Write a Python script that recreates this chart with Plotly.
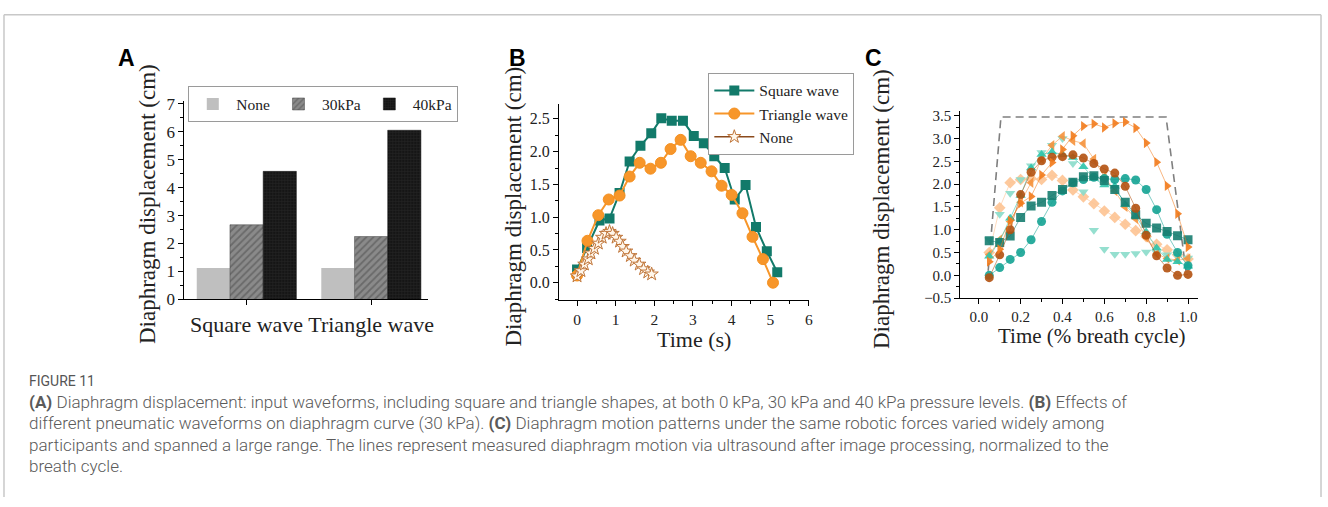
import plotly.graph_objects as go

W, H = 1328, 507
SERIF = "Liberation Serif, Times New Roman, serif"

# ---------------- Panel A data ----------------
a_categories = ["Square wave", "Triangle wave"]
a_none = [1.12, 1.12]
a_30 = [2.67, 2.25]
a_40 = [4.58, 6.05]

# ---------------- Panel B data ----------------
b_sq_x = [0.0, 0.26, 0.58, 0.84, 1.10, 1.36, 1.64, 1.92, 2.18, 2.45, 2.74, 3.02, 3.28, 3.55, 3.82, 4.08, 4.36, 4.63, 4.91, 5.18]
b_sq_y = [0.20, 0.53, 0.95, 0.98, 1.37, 1.85, 2.09, 2.28, 2.51, 2.47, 2.47, 2.24, 2.13, 1.93, 1.75, 1.27, 1.49, 0.85, 0.48, 0.16]
b_tri_x = [0.0, 0.27, 0.55, 0.82, 1.10, 1.36, 1.62, 1.90, 2.17, 2.42, 2.68, 2.94, 3.20, 3.48, 3.74, 4.00, 4.28, 4.54, 4.81, 5.07]
b_tri_y = [0.11, 0.64, 1.03, 1.27, 1.33, 1.62, 1.83, 1.74, 1.83, 2.04, 2.18, 1.93, 1.83, 1.70, 1.48, 1.34, 1.06, 0.70, 0.36, 0.00]
b_none_x = [0.0, 0.10, 0.19, 0.29, 0.36, 0.45, 0.55, 0.65, 0.75, 0.84, 0.92, 1.01, 1.10, 1.18, 1.27, 1.38, 1.48, 1.61, 1.72, 1.83, 1.93]
b_none_y = [0.10, 0.18, 0.28, 0.36, 0.45, 0.52, 0.60, 0.69, 0.75, 0.78, 0.75, 0.69, 0.63, 0.55, 0.48, 0.41, 0.34, 0.28, 0.21, 0.16, 0.13]

# ---------------- Panel C data ----------------
c_x = [0.05, 0.10, 0.15, 0.20, 0.25, 0.30, 0.35, 0.40, 0.45, 0.50,
       0.55, 0.60, 0.65, 0.70, 0.75, 0.80, 0.85, 0.90, 0.95, 1.00]
c_sq_dark = [0.76, 0.72, 0.86, 1.27, 1.52, 1.60, 1.75, 1.88, 2.04, 2.16, 2.18, 2.08, 1.88, 1.60, 1.33, 1.14, 1.04, 0.96, 0.87, 0.78]
c_circ_teal = [0.00, 0.17, 0.35, 0.50, 0.78, 1.18, 1.60, 1.85, 2.03, 2.10, 2.15, 2.12, 2.10, 2.12, 2.09, 1.88, 1.44, 0.90, 0.50, 0.21]
c_tri_up = [0.42, 0.75, 1.25, 1.75, 2.35, 2.65, 2.70, 2.65, 2.58, 2.38, 2.12, 1.98, 1.95, 1.55, 1.30, 0.95, 0.60, 0.35, 0.30, 0.20]
c_tri_down = [0.78, 1.34, 1.80, 2.10, 2.40, 2.69, 2.85, 3.00, 2.45, 1.83, 0.99, 0.57, 0.46, 0.46, 0.48, 0.51, 0.50, 0.45, 0.42, 0.38]
c_tri_right = [0.30, 0.57, 1.20, 1.58, 1.73, 2.20, 2.47, 2.76, 3.06, 3.27, 3.32, 3.24, 3.33, 3.36, 3.23, 2.90, 2.48, 1.96, 1.35, 0.62]
c_tri_left = [0.45, 0.78, 1.18, 1.60, 2.03, 2.55, 2.85, 3.05, 2.95, 2.89, 2.55, 2.16, 1.85, 1.50, 1.24, 0.83, 0.47, 0.37, 0.33, 0.37]
c_diamond = [0.50, 1.48, 2.03, 2.10, 2.12, 2.10, 2.19, 2.08, 1.87, 1.72, 1.57, 1.41, 1.27, 1.12, 0.98, 0.85, 0.68, 0.56, 0.45, 0.36]
c_circ_brown = [-0.05, 0.45, 1.00, 1.77, 2.26, 2.51, 2.59, 2.60, 2.64, 2.57, 2.45, 2.33, 2.24, 1.95, 1.47, 0.88, 0.43, 0.16, 0.00, 0.02]
c_env_x = [0.045, 0.106, 0.895, 0.99]
c_env_y = [0.10, 3.47, 3.47, 0.10]

fig = go.Figure()

# ---------- Panel A bars ----------
fig.add_trace(go.Bar(x=a_categories, y=a_none, name="None", marker=dict(color="#bfbfbf", line=dict(width=0)),
                     xaxis="x", yaxis="y", legend="legend"))
fig.add_trace(go.Bar(x=a_categories, y=a_30, name="30kPa",
                     marker=dict(color="#6e6e6e", line=dict(width=0.5, color="#444"),
                                 pattern=dict(shape="/", fgcolor="#4a4a4a", bgcolor="#8a8a8a", size=5, solidity=0.35)),
                     xaxis="x", yaxis="y", legend="legend"))
fig.add_trace(go.Bar(x=a_categories, y=a_40, name="40kPa",
                     marker=dict(color="#1c1c1c", line=dict(width=0.5, color="#111"),
                                 pattern=dict(shape="+", fgcolor="#3c3c3c", bgcolor="#151515", size=3, solidity=0.3)),
                     xaxis="x", yaxis="y", legend="legend"))

# ---------- Panel B lines ----------
fig.add_trace(go.Scatter(x=b_sq_x, y=b_sq_y, name="Square wave", mode="lines+markers",
                         line=dict(color="#127a6a", width=2),
                         marker=dict(symbol="square", size=10, color="#127a6a"),
                         xaxis="x2", yaxis="y2", legend="legend2"))
fig.add_trace(go.Scatter(x=b_tri_x, y=b_tri_y, name="Triangle wave", mode="lines+markers",
                         line=dict(color="#f7962a", width=2),
                         marker=dict(symbol="circle", size=11, color="#f7962a", line=dict(width=1, color="#f59020")),
                         xaxis="x2", yaxis="y2", legend="legend2"))
fig.add_trace(go.Scatter(x=b_none_x, y=b_none_y, name="None", mode="lines+markers",
                         line=dict(color="#8b4a1c", width=1.5),
                         marker=dict(symbol="star", size=10, color="#fff6ea", line=dict(width=1, color="#c0763a")),
                         xaxis="x2", yaxis="y2", legend="legend2"))

# ---------- Panel C ----------
fig.add_trace(go.Scatter(x=c_env_x, y=c_env_y, mode="lines", showlegend=False,
                         line=dict(color="#7f7f7f", width=1.6, dash="8px,5px"),
                         xaxis="x3", yaxis="y3"))
c_series = [
    (c_diamond, "diamond", "#fdc392", "rgba(253,195,146,0.6)"),
    (c_tri_down, "triangle-down", "#8adcca", "rgba(138,220,202,0.0)"),
    (c_tri_left, "triangle-left", "#f5923c", "rgba(245,146,60,0.55)"),
    (c_tri_up, "triangle-up", "#2ec4ab", "rgba(46,196,171,0.55)"),
    (c_circ_teal, "circle", "#14a394", "rgba(20,163,148,0.55)"),
    (c_sq_dark, "square", "#177d70", "rgba(23,125,112,0.55)"),
    (c_circ_brown, "circle", "#b3510f", "rgba(179,81,15,0.55)"),
    (c_tri_right, "triangle-right", "#f27b1c", "rgba(242,123,28,0.55)"),
]
for ys, sym, col, lcol in c_series:
    fig.add_trace(go.Scatter(x=c_x, y=ys, mode="lines+markers", showlegend=False,
                             line=dict(color=lcol, width=1),
                             marker=dict(symbol=sym, size=9, color=col, opacity=0.9),
                             xaxis="x3", yaxis="y3"))

axis_common = dict(showline=True, linecolor="black", linewidth=1, ticks="outside", ticklen=5,
                   tickcolor="black", showgrid=False, zeroline=False, mirror=False, tickangle=0,
                   tickfont=dict(family=SERIF, size=16, color="#222"))

def px_x(p):
    return p / W

def px_y(p):
    return 1 - p / H

fig.update_layout(
    width=W, height=H, margin=dict(l=0, r=0, t=0, b=0), autosize=False,
    paper_bgcolor="white", plot_bgcolor="white",
    barmode="group", bargap=0.2, bargroupgap=0,
    xaxis=dict(axis_common, domain=[px_x(185), px_x(430)], range=[-0.5, 1.46], anchor="y",
               tickfont=dict(family=SERIF, size=22, color="#222")),
    yaxis=dict(axis_common, domain=[px_y(303), px_y(98)], range=[0, 7.1], anchor="x", dtick=1,
               tickfont=dict(family=SERIF, size=17, color="#222"),
               minor=dict(ticks="outside", ticklen=3, dtick=0.5, tickcolor="black")),
    xaxis2=dict(axis_common, domain=[px_x(561), px_x(812)], range=[-0.47, 6.0], anchor="y2", dtick=1,
                tickfont=dict(family=SERIF, size=15.5, color="#222"),
                minor=dict(ticks="outside", ticklen=3, dtick=0.5, tickcolor="black")),
    yaxis2=dict(axis_common, domain=[px_y(304), px_y(101)], range=[-0.27, 2.73], anchor="x2", dtick=0.5,
                tickformat=".1f", minor=dict(ticks="outside", ticklen=3, dtick=0.25, tickcolor="black")),
    xaxis3=dict(axis_common, domain=[px_x(964), px_x(1203)], range=[-0.088, 1.05], anchor="y3", dtick=0.2,
                tickformat=".1f", tickfont=dict(family=SERIF, size=15, color="#222"),
                minor=dict(ticks="outside", ticklen=3, dtick=0.1, tickcolor="black")),
    yaxis3=dict(axis_common, domain=[px_y(301.7), px_y(108)], range=[-0.5, 3.61], anchor="x3", dtick=0.5,
                tickformat=".1f", tickfont=dict(family=SERIF, size=15, color="#222"),
                minor=dict(ticks="outside", ticklen=3, dtick=0.25, tickcolor="black")),
    legend=dict(orientation="h", x=px_x(189), y=px_y(83), xanchor="left", yanchor="top",
                bordercolor="#9a9a9a", borderwidth=1, bgcolor="white",
                font=dict(family=SERIF, size=15.5, color="#222"), itemwidth=37, traceorder="normal"),
    legend2=dict(orientation="v", x=px_x(711), y=px_y(69), xanchor="left", yanchor="top",
                 bordercolor="#9a9a9a", borderwidth=1, bgcolor="white",
                 font=dict(family=SERIF, size=15.5, color="#222"), itemwidth=40, tracegroupgap=0),
    showlegend=True,
)

annotations = []
# panel letters
for letter, cx in (("A", 127), ("B", 519), ("C", 877)):
    annotations.append(dict(text=f"<b>{letter}</b>", x=px_x(cx), y=px_y(54), xref="paper", yref="paper",
                            showarrow=False, xanchor="center", yanchor="middle",
                            font=dict(family="Liberation Sans, Arial, sans-serif", size=23, color="black")))
# axis titles
ytitle = "Diaphragm displacement (cm)"
for cx, cy in ((148, 204), (515, 207), (885, 210)):
    annotations.append(dict(text=ytitle, x=px_x(cx), y=px_y(cy), xref="paper", yref="paper", textangle=-90,
                            showarrow=False, xanchor="center", yanchor="middle",
                            font=dict(family=SERIF, size=23, color="#222")))
annotations.append(dict(text="Time (s)", x=px_x(697), y=px_y(344), xref="paper", yref="paper",
                        showarrow=False, xanchor="center", yanchor="middle",
                        font=dict(family=SERIF, size=22, color="#222")))
annotations.append(dict(text="Time (% breath cycle)", x=px_x(1096), y=px_y(341), xref="paper", yref="paper",
                        showarrow=False, xanchor="center", yanchor="middle",
                        font=dict(family=SERIF, size=21, color="#222")))
# caption
CAP = "Roboto, Noto Sans, sans-serif"
annotations.append(dict(text="FIGURE 11", x=px_x(27), y=px_y(387), xref="paper", yref="paper",
                        showarrow=False, xanchor="left", yanchor="middle",
                        font=dict(family=CAP, size=14, color="#555555")))
cap_lines = [
    "<b>(A)</b> Diaphragm displacement: input waveforms, including square and triangle shapes, at both 0 kPa, 30 kPa and 40 kPa pressure levels. <b>(B)</b> Effects of",
    "different pneumatic waveforms on diaphragm curve (30 kPa). <b>(C)</b> Diaphragm motion patterns under the same robotic forces varied widely among",
    "participants and spanned a large range. The lines represent measured diaphragm motion via ultrasound after image processing, normalized to the",
    "breath cycle.",
]
for i, line in enumerate(cap_lines):
    annotations.append(dict(text=line, x=px_x(27), y=px_y(409 + 22 * i), xref="paper", yref="paper",
                            showarrow=False, xanchor="left", yanchor="middle",
                            font=dict(family=CAP, size=17, color="#5a5a5a", weight=300)))
fig.update_layout(annotations=annotations)

# outer frame (left, top, right edges; bottom runs past the view)
frame = dict(color="#c8c8c8", width=1.5)
fig.add_shape(type="line", xref="paper", yref="paper", x0=px_x(4), x1=px_x(4), y0=0, y1=px_y(9), line=frame)
fig.add_shape(type="line", xref="paper", yref="paper", x0=px_x(4), x1=px_x(1326), y0=px_y(9), y1=px_y(9), line=frame)
fig.add_shape(type="line", xref="paper", yref="paper", x0=px_x(1326), x1=px_x(1326), y0=0, y1=px_y(9), line=frame)

fig.write_html("out.html", post_script="document.body.style.margin='0px';document.body.style.overflow='hidden';")
